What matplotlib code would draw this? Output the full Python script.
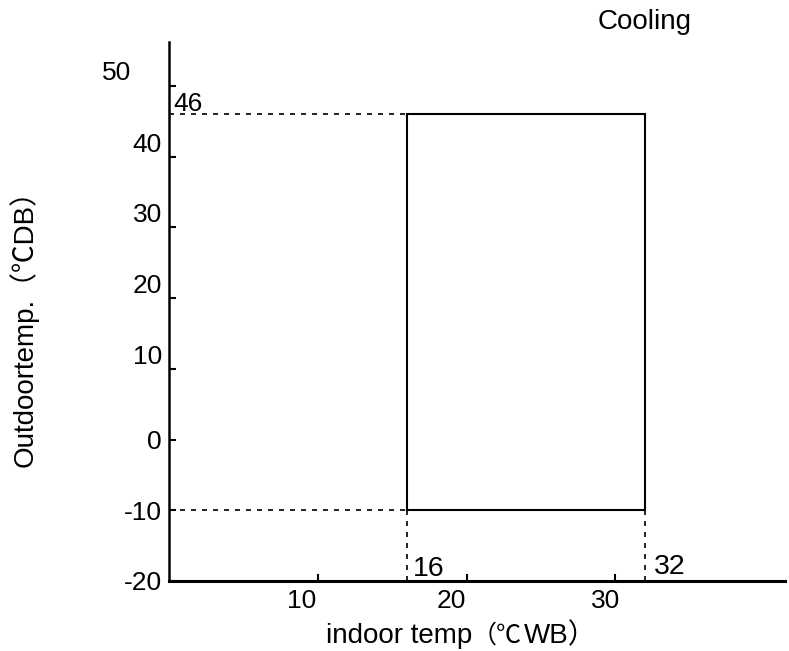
import matplotlib

matplotlib.use("Agg")
import matplotlib.pyplot as plt
import matplotlib.transforms as mtransforms

plt.rcParams["font.family"] = ["Liberation Sans", "Noto Sans CJK SC"]
plt.rcParams["axes.unicode_minus"] = False

# Cooling operating range
indoor_range = [16, 32]     # indoor temp, deg C WB
outdoor_range = [-10, 46]   # outdoor temp, deg C DB

x_ticks = [10, 20, 30]
y_ticks = [-20, -10, 0, 10, 20, 30, 40, 50]
x_limits = (0, 41.4)
y_limits = (-20, 56.2)

# x title split so the CJK signs come from a CJK font
x_title = ["indoor temp", "（℃", "WB）"]
y_title = "Outdoortemp.（℃DB）"

# hand-drawn look of the original: tick labels sit off their ticks (pixels)
X_NUDGE = {10: (-16, 0), 20: (-15, 0), 30: (-10, 0)}
Y_NUDGE = {50: (-31, 15), 40: (0, 14), 30: (0, 15), 20: (0, 15), 10: (0, 14)}

LINE = "black"
DASH = (0, (3, 3.6))
W, H = 789, 651
CJK = ["Noto Sans CJK SC"]

fig = plt.figure(figsize=(W / 100, H / 100), dpi=100)
ax = fig.add_axes([169 / W, 70 / H, 616 / W, 539 / H])

x0, x1 = indoor_range
y0, y1 = outdoor_range

# operating envelope
ax.plot([x0, x1, x1, x0, x0], [y0, y0, y1, y1, y0], color=LINE, lw=1.5,
        solid_joinstyle="miter", clip_on=False)

# guide lines back to the axes
ax.plot([x_limits[0], x0], [y1, y1], color=LINE, lw=1.2, ls=DASH, clip_on=False)
ax.plot([x_limits[0], x0], [y0, y0], color=LINE, lw=1.2, ls=DASH, clip_on=False)
ax.plot([x0, x0], [y_limits[0], y0], color=LINE, lw=1.2, ls=DASH, clip_on=False)
ax.plot([x1, x1], [y_limits[0], y0], color=LINE, lw=1.2, ls=DASH, clip_on=False)

ax.annotate(str(y1), xy=(x_limits[0], y1), xytext=(3, 2), textcoords="offset points",
            ha="left", va="baseline", fontsize=19)
ax.annotate(str(x0), xy=(x0, y_limits[0]), xytext=(4.5, 3.5), textcoords="offset points",
            ha="left", va="baseline", fontsize=20.5)
ax.annotate(str(x1), xy=(x1, y_limits[0]), xytext=(6, 5), textcoords="offset points",
            ha="left", va="baseline", fontsize=20.5)

ax.set_xlim(*x_limits)
ax.set_ylim(*y_limits)
ax.set_xticks(x_ticks)
ax.set_yticks(y_ticks)
ax.set_xticklabels([str(v) for v in x_ticks])
ax.set_yticklabels([str(v) for v in y_ticks])

for side in ("top", "right"):
    ax.spines[side].set_visible(False)
ax.spines["left"].set_linewidth(1.8)
ax.spines["bottom"].set_linewidth(2.2)

ax.tick_params(direction="in", length=5, width=1.5, labelsize=19, color=LINE)
ax.tick_params(axis="x", pad=6)
ax.tick_params(axis="y", pad=5)

for val, lab in zip(x_ticks, ax.xaxis.get_majorticklabels()):
    dx, dy = X_NUDGE.get(val, (0, 0))
    lab.set_transform(lab.get_transform()
                      + mtransforms.ScaledTranslation(dx / 100, dy / 100, fig.dpi_scale_trans))
for val, lab in zip(y_ticks, ax.yaxis.get_majorticklabels()):
    dx, dy = Y_NUDGE.get(val, (0, 0))
    lab.set_transform(lab.get_transform()
                      + mtransforms.ScaledTranslation(dx / 100, dy / 100, fig.dpi_scale_trans))

# x axis title, pieces on one baseline
x_starts = [326, 472, 524]
for txt, px in zip(x_title, x_starts):
    fam = CJK if "℃" in txt else plt.rcParams["font.family"]
    size = 18 if "℃" in txt else 20
    fig.text(px / W, 1 - 643 / H, txt, ha="left", va="baseline", fontsize=size, family=fam)

# y axis title, read bottom to top
fig.text(33 / W, 1 - 467 / H, y_title, ha="left", va="baseline", rotation=90,
         rotation_mode="anchor", fontsize=20)

fig.text(645 / W, 1 - 22 / H, "Cooling", ha="center", va="center", fontsize=20)

fig.savefig("out.png", dpi=100)
